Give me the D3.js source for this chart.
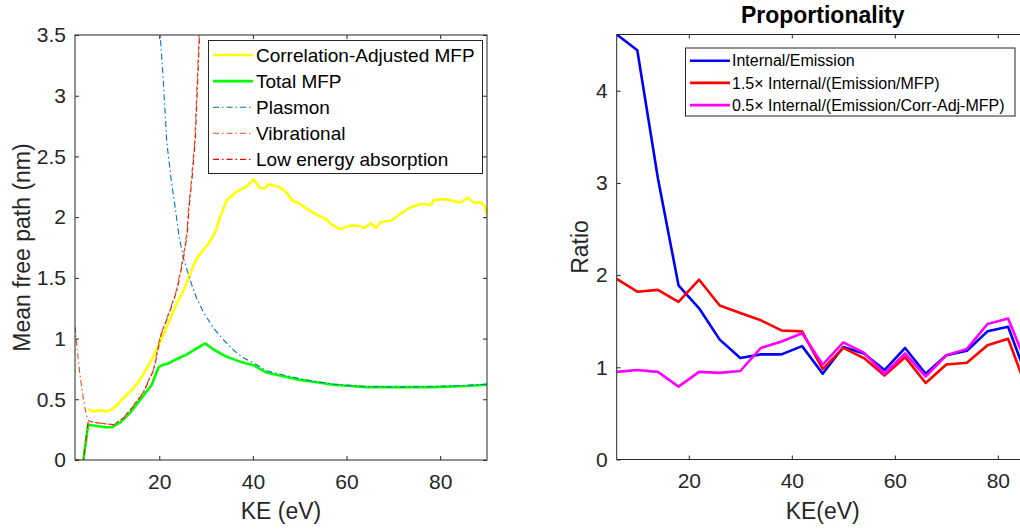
<!DOCTYPE html>
<html><head><meta charset="utf-8">
<script src="https://cdn.jsdelivr.net/npm/d3@7"></script>
<style>
html,body{margin:0;padding:0;background:#fff;}
svg{display:block;font-family:"Liberation Sans",Arial,Helvetica,sans-serif;}
</style></head>
<body>
<svg id="chart" width="1020" height="529"></svg>
<script>
// ---------- Left panel data ----------
const corrAdjKE  = [4.8,6,7.5,8.8,10,10.9,12.3,13.7,15.1,16.5,18,19.5,20.4,22,23.6,25,26.4,27.5,28.2,29.4,30.5,31.9,33.0,34.4,35.6,36.5,38.6,40.1,40.6,41.5,42.6,43.3,45.5,46.3,47.2,48.6,49.6,51.5,53.6,55.8,56.7,58.6,60.7,62.4,63.8,65.2,66.3,67.3,69.5,71.6,73.7,75.9,78.0,78.7,80.8,83.0,84.4,85.8,87.2,88.6,89.4,90];
const corrAdjMFP = [0.42,0.40,0.41,0.40,0.42,0.45,0.51,0.56,0.62,0.70,0.80,0.91,0.99,1.13,1.28,1.38,1.51,1.62,1.67,1.73,1.78,1.87,2.00,2.14,2.18,2.21,2.25,2.31,2.29,2.24,2.24,2.27,2.25,2.23,2.20,2.13,2.12,2.07,2.02,1.98,1.94,1.90,1.93,1.93,1.91,1.95,1.91,1.96,1.97,2.03,2.08,2.11,2.10,2.14,2.15,2.13,2.12,2.16,2.12,2.12,2.10,2.02];

const totalKE  = [3.8,4.8,6.7,8.5,9.9,11.7,13.8,16.6,18.4,19.8,20.5,21.6,23.7,25.9,28.0,29.8,31.6,34.4,37.3,40.1,42.9,46.5,50.0,53.6,57.2,60.7,64.3,71.4,78.5,85.6,90];
const totalMFP = [0,0.29,0.28,0.27,0.27,0.31,0.39,0.53,0.62,0.76,0.78,0.79,0.83,0.87,0.92,0.96,0.91,0.85,0.81,0.78,0.72,0.69,0.66,0.64,0.62,0.61,0.60,0.60,0.60,0.61,0.62];

const plasmonKE  = [19.5,20.2,20.9,21.6,22.5,23.4,24.2,25.1,26.6,28.0,29.4,31.5,33.7,36.0,38.0,40.1,42.9,46.5,50.0,53.6,57.2,60.7,64.3,71.4,78.5,85.6,90];
const plasmonMFP = [3.9,3.5,3.10,2.62,2.32,2.08,1.85,1.67,1.48,1.33,1.22,1.09,0.99,0.90,0.84,0.80,0.735,0.70,0.67,0.645,0.625,0.615,0.605,0.60,0.605,0.615,0.625];

const vibKE  = [2,2.5,3,3.5,4,4.5,5,6,8,10.2,12.4,14.5,16.6,18.8,20.2,22.3,23.7,25.1,25.9,26.2,26.9,27.6,28.5,29.0];
const vibMFP = [1.10,0.90,0.72,0.58,0.45,0.36,0.32,0.31,0.30,0.29,0.35,0.45,0.56,0.75,1.02,1.24,1.40,1.67,1.87,2.05,2.32,2.64,3.5,4.0];

const lowKE  = [2,3.8,4.8,5.1,6.1,8.1,10.3,12.5,14.6,16.7,18.9,20.3,22.4,23.8,25.2,26.0,26.3,27.0,27.7,28.6,29.1];
const lowMFP = [0,0,0.31,0.32,0.31,0.30,0.29,0.35,0.45,0.56,0.75,1.02,1.24,1.40,1.67,1.87,2.05,2.32,2.64,3.5,4.0];

const leftXTicks = [20,40,60,80];
const leftYTicks = [0,0.5,1,1.5,2,2.5,3,3.5];

// ---------- Right panel data ----------
const ratioKE = [6,10,14,18,22,26,30,34,38,42,46,50,54,58,62,66,70,74,78,82,86];
const internalEmission = [4.61,4.44,3.05,1.89,1.64,1.30,1.10,1.14,1.14,1.23,0.93,1.22,1.15,0.97,1.21,0.93,1.13,1.18,1.39,1.44,0.84];
const scaledMFP        = [1.96,1.82,1.84,1.71,1.95,1.67,1.59,1.51,1.40,1.39,0.98,1.21,1.10,0.91,1.11,0.83,1.03,1.05,1.24,1.31,0.71];
const scaledCorrAdj    = [0.95,0.97,0.95,0.79,0.95,0.94,0.96,1.21,1.28,1.37,1.03,1.27,1.16,0.93,1.15,0.90,1.13,1.20,1.47,1.53,0.98];
const rightXTicks = [20,40,60,80];
const rightYTicks = [0,1,2,3,4];

const leftLegend  = ["Correlation-Adjusted MFP","Total MFP","Plasmon","Vibrational","Low energy absorption"];
const rightLegend = ["Internal/Emission","1.5\u00D7 Internal/(Emission/MFP)","0.5\u00D7 Internal/(Emission/Corr-Adj-MFP)"];
const rightTitle = "Proportionality";

// ---------- Drawing ----------
const svg = d3.select("#chart");
svg.append("rect").attr("width",1020).attr("height",529).attr("fill","#fff");
const AX = "#262626";
const DASHDOT = "6,3,1.5,3";
const VIB = "#D95319";

function panel(opts){
  const {x0,x1,y0,y1,xDom,yDom,id} = opts;
  const x = d3.scaleLinear().domain(xDom).range([x0,x1]);
  const y = d3.scaleLinear().domain(yDom).range([y1,y0]);
  svg.append("clipPath").attr("id",id).append("rect")
     .attr("x",x0).attr("y",y0).attr("width",x1-x0).attr("height",y1-y0);
  const plot = svg.append("g").attr("clip-path",`url(#${id})`);
  return {x,y,plot};
}
function frame(p, opts){
  const {x0,x1,y0,y1,xTicks,yTicks,yFmt,fs} = opts;
  const {x,y} = p;
  const gb = svg.append("g").attr("transform",`translate(0,${y1})`)
    .call(d3.axisBottom(x).tickValues(xTicks).tickSizeInner(-4).tickSizeOuter(0).tickPadding(14).tickFormat(d3.format("d")));
  const gt = svg.append("g").attr("transform",`translate(0,${y0})`)
    .call(d3.axisTop(x).tickValues(xTicks).tickSizeInner(-4).tickSizeOuter(0).tickFormat(""));
  const gl = svg.append("g").attr("transform",`translate(${x0},0)`)
    .call(d3.axisLeft(y).tickValues(yTicks).tickSizeInner(-4).tickSizeOuter(0).tickPadding(9).tickFormat(yFmt));
  const gr = svg.append("g").attr("transform",`translate(${x1},0)`)
    .call(d3.axisRight(y).tickValues(yTicks).tickSizeInner(-4).tickSizeOuter(0).tickFormat(""));
  [gb,gt,gl,gr].forEach(g=>{
    g.select(".domain").remove();
    g.selectAll("line").attr("stroke",AX);
    g.selectAll("text").attr("fill",AX).style("font-size",fs+"px").style("font-family",'"Liberation Sans",Arial,sans-serif');
  });
  svg.append("rect").attr("x",x0).attr("y",y0).attr("width",x1-x0).attr("height",y1-y0)
     .attr("fill","none").attr("stroke",AX).attr("stroke-width",1);
}
function drawLine(p, xs, ys, color, w, dash){
  const data = xs.map((k,i)=>[k,ys[i]]);
  const line = d3.line().x(d=>p.x(d[0])).y(d=>p.y(d[1]));
  const path = p.plot.append("path").datum(data).attr("d",line)
    .attr("fill","none").attr("stroke",color).attr("stroke-width",w)
    .attr("stroke-linejoin","round");
  if(dash) path.attr("stroke-dasharray",dash);
  return path;
}

// Left panel
const L = {x0:75,x1:487,y0:35,y1:460,xTicks:leftXTicks,yTicks:leftYTicks,yFmt:d3.format("~g"),fs:21,id:"clipL"};
const pL = panel({...L,xDom:[2,90],yDom:[0,3.5]});
drawLine(pL, corrAdjKE, corrAdjMFP, "#FFFF00", 2.6);
drawLine(pL, totalKE, totalMFP, "#00FF00", 2.6);
drawLine(pL, plasmonKE, plasmonMFP, "#0072BD", 1.1, DASHDOT);
drawLine(pL, lowKE, lowMFP, "#FF0000", 1.1, DASHDOT);
drawLine(pL, vibKE, vibMFP, VIB, 1.1, DASHDOT);
frame(pL, L);

// Left labels
svg.append("text").attr("x",281).attr("y",519).attr("text-anchor","middle")
  .attr("fill",AX).style("font-size","23px").text("KE (eV)");
svg.append("text").attr("transform","translate(30,247.5) rotate(-90)").attr("text-anchor","middle")
  .attr("fill",AX).style("font-size","23px").text("Mean free path (nm)");

// Left legend
const legL = svg.append("g");
legL.append("rect").attr("x",208.5).attr("y",40.5).attr("width",274).attr("height",133)
  .attr("fill","#fff").attr("stroke",AX).attr("stroke-width",1);
const legLStyles = [["#FFFF00",2.6,null],["#00FF00",2.6,null],["#0072BD",1.1,DASHDOT],[VIB,1.1,DASHDOT],["#FF0000",1.1,DASHDOT]];
leftLegend.forEach((t,i)=>{
  const cy = 55 + i*26.1;
  const ln = legL.append("line").attr("x1",213).attr("x2",253).attr("y1",cy).attr("y2",cy)
    .attr("stroke",legLStyles[i][0]).attr("stroke-width",legLStyles[i][1]);
  if(legLStyles[i][2]) ln.attr("stroke-dasharray",legLStyles[i][2]);
  legL.append("text").attr("x",256).attr("y",cy).attr("dy","0.35em")
    .attr("fill","#000").style("font-size","19px").text(t);
});

// Right panel
const R = {x0:616.7,x1:1028.7,y0:34.5,y1:459.5,xTicks:rightXTicks,yTicks:rightYTicks,yFmt:d3.format("d"),fs:21,id:"clipR"};
const pR = panel({...R,xDom:[6,86],yDom:[0,d3.max(internalEmission)]});
drawLine(pR, ratioKE, internalEmission, "#0000FF", 2.6);
drawLine(pR, ratioKE, scaledMFP, "#FF0000", 2.6);
drawLine(pR, ratioKE, scaledCorrAdj, "#FF00FF", 2.6);
frame(pR, R);

svg.append("text").attr("x",822.7).attr("y",23).attr("text-anchor","middle")
  .attr("fill","#000").style("font-size","23px").style("font-weight","bold").text(rightTitle);
svg.append("text").attr("x",822.7).attr("y",519).attr("text-anchor","middle")
  .attr("fill",AX).style("font-size","23px").text("KE(eV)");
svg.append("text").attr("transform","translate(588,247) rotate(-90)").attr("text-anchor","middle")
  .attr("fill",AX).style("font-size","23px").text("Ratio");

// Right legend
const legR = svg.append("g");
legR.append("rect").attr("x",685.5).attr("y",48).attr("width",329.5).attr("height",68)
  .attr("fill","#fff").attr("stroke",AX).attr("stroke-width",1);
const legRColors = ["#0000FF","#FF0000","#FF00FF"];
rightLegend.forEach((t,i)=>{
  const cy = 60.7 + i*22.2;
  legR.append("line").attr("x1",690).attr("x2",730).attr("y1",cy).attr("y2",cy)
    .attr("stroke",legRColors[i]).attr("stroke-width",2.6);
  legR.append("text").attr("x",732).attr("y",cy).attr("dy","0.35em")
    .attr("fill","#000").style("font-size","16px").text(t);
});
</script>
</body></html>
